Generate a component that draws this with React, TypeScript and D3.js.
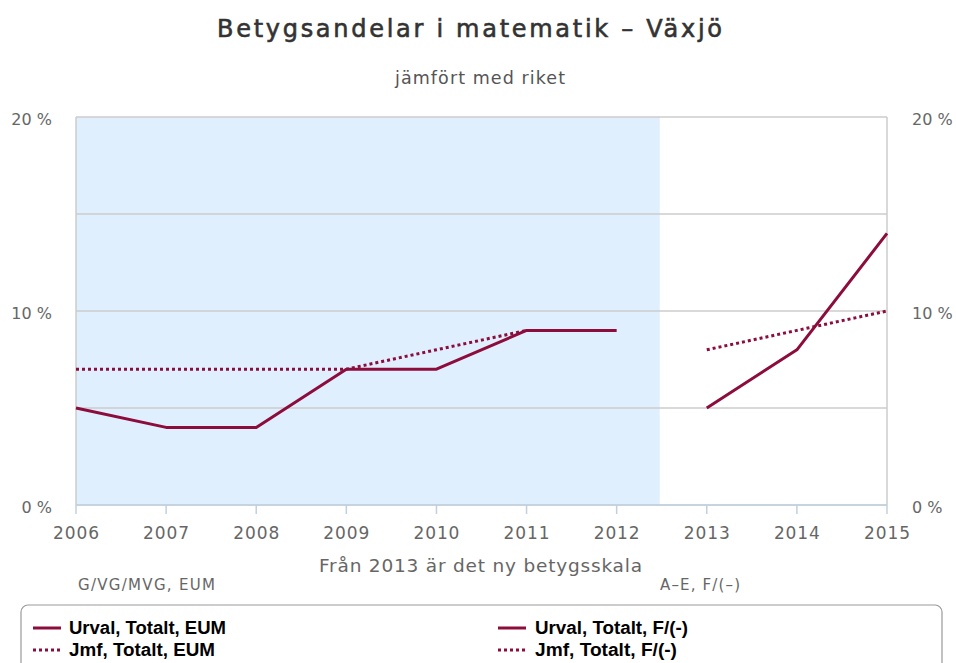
import React from "react";
import * as d3 from "d3";

const years = [2006, 2007, 2008, 2009, 2010, 2011, 2012, 2013, 2014, 2015];
const yTicks = [0, 5, 10, 15, 20];
const yLabelTicks = [0, 10, 20];
const urvalEumYears = [2006, 2007, 2008, 2009, 2010, 2011, 2012];
const urvalEum = [5, 4, 4, 7, 7, 9, 9];
const jmfEum = [7, 7, 7, 7, 8, 9, 9];
const fYears = [2013, 2014, 2015];
const urvalF = [5, 8, 14];
const jmfF = [8, 9, 10];
const legendLabels = ["Urval, Totalt, EUM", "Jmf, Totalt, EUM", "Urval, Totalt, F/(-)", "Jmf, Totalt, F/(-)"];

const W = 956, H = 663;
const left = 76, right = 887, top = 117, bottom = 505;
const color = "#8c0c3c";

export default function App() {
  const x = d3.scaleLinear().domain([2006, 2015]).range([left, right]);
  const y = d3.scaleLinear().domain([0, 20]).range([bottom, top]);
  const line = d3.line<[number, number]>().x(d => x(d[0])).y(d => y(d[1]));
  const pts = (xs: number[], vs: number[]) => xs.map((v, i) => [v, vs[i]] as [number, number]);
  const font = "'DejaVu Sans', sans-serif";
  const legFont = "'Liberation Sans', Arial, sans-serif";
  return (
    <svg width={W} height={H} style={{ position: "absolute", left: 0, top: 0 }} fontFamily={font}>
      <rect x={0} y={0} width={W} height={H} fill="#fff" />
      <text x={217} y={37} fontSize={24} fill="#333" stroke="#333" strokeWidth={0.6} textLength={505} lengthAdjust="spacing">Betygsandelar i matematik – Växjö</text>
      <text x={395} y={84} fontSize={17.5} fill="#555" textLength={170} lengthAdjust="spacing">jämfört med riket</text>
      <rect x={x(2006)} y={top} width={x(2012.5) - x(2006) - 2} height={bottom - top} fill="#dfeffe" />
      {yTicks.map(t => (
        <line key={t} x1={left} x2={right} y1={y(t)} y2={y(t)} stroke="#ccc" strokeWidth={1.5} />
      ))}
      <line x1={left} x2={left} y1={top} y2={bottom} stroke="#ccc" strokeWidth={1.5} />
      <line x1={right} x2={right} y1={top} y2={bottom} stroke="#ccc" strokeWidth={1.5} />
      <line x1={left} x2={right} y1={bottom} y2={bottom} stroke="#c0d0e0" strokeWidth={1.5} />
      {years.map(yr => (
        <g key={yr}>
          <line x1={x(yr)} x2={x(yr)} y1={bottom} y2={bottom + 9} stroke="#c0d0e0" strokeWidth={1.5} />
          <text x={x(yr) - 23} y={539} fontSize={17} fill="#666" textLength={46} lengthAdjust="spacing">{yr}</text>
        </g>
      ))}
      {yLabelTicks.map(t => (
        <g key={t}>
          <text x={52} y={y(t) + 8} textAnchor="end" fontSize={16} fill="#666">{t} %</text>
          <text x={912} y={y(t) + 8} textAnchor="start" fontSize={16} fill="#666">{t} %</text>
        </g>
      ))}
      <path d={line(pts(urvalEumYears, jmfEum))!} fill="none" stroke={color} strokeWidth={3} strokeDasharray="3,3" />
      <path d={line(pts(fYears, jmfF))!} fill="none" stroke={color} strokeWidth={3} strokeDasharray="3,3" />
      <path d={line(pts(urvalEumYears, urvalEum))!} fill="none" stroke={color} strokeWidth={3} strokeLinejoin="round" />
      <path d={line(pts(fYears, urvalF))!} fill="none" stroke={color} strokeWidth={3} strokeLinejoin="round" />
      <text x={319} y={572} fontSize={18.5} fill="#666" textLength={323} lengthAdjust="spacing">Från 2013 är det ny betygsskala</text>
      <text x={78} y={590} fontSize={15} fill="#666" textLength={137} lengthAdjust="spacing">G/VG/MVG, EUM</text>
      <text x={660} y={590} fontSize={15} fill="#666" textLength={80} lengthAdjust="spacing">A–E, F/(–)</text>
      <rect x={21} y={605} width={921} height={80} rx={7} fill="#fff" stroke="#999" strokeWidth={1.2} />
      {legendLabels.map((lab, i) => {
        const col = Math.floor(i / 2);
        const row = i % 2;
        const lx = col === 0 ? 33 : 498;
        const tx = col === 0 ? 69 : 535;
        const ly = 634 + row * 22;
        const widths = [157, 146, 153, 142];
        return (
          <g key={lab}>
            <line x1={lx} x2={lx + 28} y1={ly - 6} y2={ly - 6} stroke={color} strokeWidth={3} strokeDasharray={row === 1 ? "3,3" : undefined} />
            <text x={tx} y={ly} fontSize={18} fontWeight="bold" fontFamily={legFont} fill="#000" textLength={widths[i]} lengthAdjust="spacingAndGlyphs">{lab}</text>
          </g>
        );
      })}
    </svg>
  );
}
